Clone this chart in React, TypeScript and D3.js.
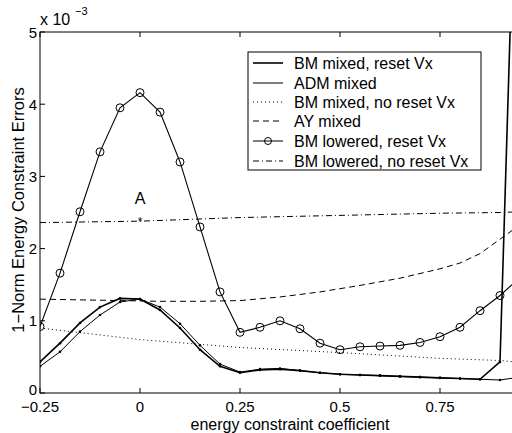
import React from "react";
import * as d3 from "d3";

const coef = [-0.25, -0.2, -0.15, -0.1, -0.05, 0, 0.05, 0.1, 0.15, 0.2, 0.25, 0.3, 0.35, 0.4, 0.45, 0.5, 0.55, 0.6, 0.65, 0.7, 0.75, 0.8, 0.85, 0.9, 0.95, 1.0];
const bmMixedReset = [0.43, 0.69, 0.97, 1.19, 1.31, 1.30, 1.15, 0.90, 0.60, 0.37, 0.28, 0.32, 0.33, 0.31, 0.28, 0.26, 0.25, 0.24, 0.23, 0.22, 0.21, 0.20, 0.19, 0.43, 9.5, 9.5];
const admMixed = [0.37, 0.57, 0.85, 1.08, 1.26, 1.30, 1.19, 0.96, 0.66, 0.40, 0.29, 0.33, 0.34, 0.31, 0.28, 0.26, 0.25, 0.24, 0.23, 0.22, 0.21, 0.20, 0.19, 0.18, 0.22, 0.28];
const bmLoweredReset = [0.92, 1.66, 2.51, 3.34, 3.95, 4.16, 3.89, 3.2, 2.3, 1.40, 0.84, 0.91, 1.0, 0.89, 0.69, 0.60, 0.64, 0.65, 0.66, 0.70, 0.78, 0.91, 1.14, 1.35, 1.6, 2.6];

const noResetCoef = [-0.25, 0, 0.25, 0.5, 0.75, 0.9, 1.0];
const bmMixedNoReset = [0.90, 0.74, 0.63, 0.56, 0.48, 0.45, 0.40];
const bmLoweredNoReset = [2.36, 2.38, 2.43, 2.46, 2.49, 2.50, 2.52];

const ayCoef = [-0.25, -0.15, -0.05, 0.05, 0.15, 0.25, 0.35, 0.45, 0.55, 0.65, 0.75, 0.8, 0.85, 0.9, 0.95, 1.0];
const ayMixed = [1.30, 1.29, 1.28, 1.27, 1.27, 1.28, 1.33, 1.40, 1.49, 1.59, 1.72, 1.80, 1.93, 2.13, 2.33, 2.6];

const xTicks = [-0.25, 0, 0.25, 0.5, 0.75, 1];
const xTickLabels = ["\u22120.25", "0", "0.25", "0.5", "0.75", "1"];
const yTicks = [0, 1, 2, 3, 4, 5];

const legendLabels = [
  "BM mixed, reset Vx",
  "ADM mixed",
  "BM mixed, no reset Vx",
  "AY mixed",
  "BM lowered, reset Vx",
  "BM lowered, no reset Vx",
];

const W = 512, H = 433;
const FONT = "'Liberation Sans', Arial, Helvetica, sans-serif";

export default function App() {
  const x = d3.scaleLinear().domain([-0.25, 1]).range([40, 540]);
  const y = d3.scaleLinear().domain([0, 5]).range([393, 32]);
  const line = d3.line<[number, number]>().x(d => x(d[0])).y(d => y(d[1]));
  const pts = (xs: number[], ys: number[]) => xs.map((v, i) => [v, ys[i]] as [number, number]);

  const legStyles = [
    { w: 1.6, dash: undefined, marker: false },
    { w: 1.0, dash: undefined, marker: false },
    { w: 1.0, dash: "1,3", marker: false },
    { w: 1.0, dash: "6,4", marker: false },
    { w: 1.0, dash: undefined, marker: true },
    { w: 1.0, dash: "6,3,1,3", marker: false },
  ];
  const legRows = [63, 83, 102, 121, 141, 161];

  return (
    <svg width={W} height={H} style={{ position: "absolute", left: 0, top: 0, background: "#fff" }} fontFamily={FONT}>
      <defs>
        <clipPath id="plotclip">
          <rect x={40} y={32} width={500} height={361} />
        </clipPath>
      </defs>
      <rect x={0} y={0} width={W} height={H} fill="#fff" />
      <g clipPath="url(#plotclip)" fill="none" stroke="#000">
        <path d={line(pts(noResetCoef, bmLoweredNoReset)) || ""} strokeWidth={1} strokeDasharray="6,3,1,3" />
        <path d={line(pts(ayCoef, ayMixed)) || ""} strokeWidth={1} strokeDasharray="6,4" />
        <path d={line(pts(noResetCoef, bmMixedNoReset)) || ""} strokeWidth={1} strokeDasharray="1,3" />
        <path d={line(pts(coef, admMixed)) || ""} strokeWidth={1} />
        <path d={line(pts(coef, bmMixedReset)) || ""} strokeWidth={1.6} />
        <path d={line(pts(coef, bmLoweredReset)) || ""} strokeWidth={1.1} />
        {coef.map((c, i) => (
          <circle key={"o" + i} cx={x(c)} cy={y(bmLoweredReset[i])} r={4} strokeWidth={1} fill="none" />
        ))}
        {coef.map((c, i) => (
          <circle key={"a" + i} cx={x(c)} cy={y(admMixed[i])} r={1.3} fill="#000" stroke="none" />
        ))}
        {coef.map((c, i) => (
          <circle key={"b" + i} cx={x(c)} cy={y(bmMixedReset[i])} r={1.3} fill="#000" stroke="none" />
        ))}
        <text x={x(0)} y={y(2.37) + 4} textAnchor="middle" fontSize={12} fill="#000" stroke="none">*</text>
      </g>
      <text x={x(0)} y={y(2.62)} textAnchor="middle" fontSize={16}>A</text>

      {/* axes box */}
      <rect x={40} y={32} width={500} height={361} fill="none" stroke="#000" strokeWidth={1} />
      {xTicks.map((t, i) => (
        <g key={"xt" + i}>
          <line x1={x(t)} x2={x(t)} y1={393} y2={388} stroke="#000" />
          <line x1={x(t)} x2={x(t)} y1={32} y2={37} stroke="#000" />
          {x(t) < W && (
            <text x={x(t)} y={411.5} textAnchor="middle" fontSize={15}>{xTickLabels[i]}</text>
          )}
        </g>
      ))}
      {yTicks.map((t, i) => (
        <g key={"yt" + i}>
          <line x1={40} x2={45} y1={y(t)} y2={y(t)} stroke="#000" />
          <text x={37} y={y(t) + (t === 0 ? 1.5 : 5.5)} textAnchor="end" fontSize={15}>{t}</text>
        </g>
      ))}
      <text x={40} y={25} fontSize={16}>x 10</text>
      <text x={75} y={15} fontSize={11}>{"\u22123"}</text>

      <text x={290} y={429.5} textAnchor="middle" fontSize={16}>energy constraint coefficient</text>
      <text transform={`translate(24,${210}) rotate(-90)`} textAnchor="middle" fontSize={16.5}>1{"\u2212"}Norm Energy Constraint Errors</text>

      {/* legend */}
      <rect x={248} y={52} width={233} height={118} fill="#fff" stroke="#000" strokeWidth={1} />
      {legendLabels.map((lab, i) => (
        <g key={"lg" + i}>
          <line x1={253} x2={283} y1={legRows[i]} y2={legRows[i]} stroke="#000" strokeWidth={legStyles[i].w} strokeDasharray={legStyles[i].dash} />
          {legStyles[i].marker && <circle cx={268} cy={legRows[i]} r={3.5} fill="none" stroke="#000" />}
          <text x={294} y={legRows[i] + 6} fontSize={16}>{lab}</text>
        </g>
      ))}
    </svg>
  );
}
